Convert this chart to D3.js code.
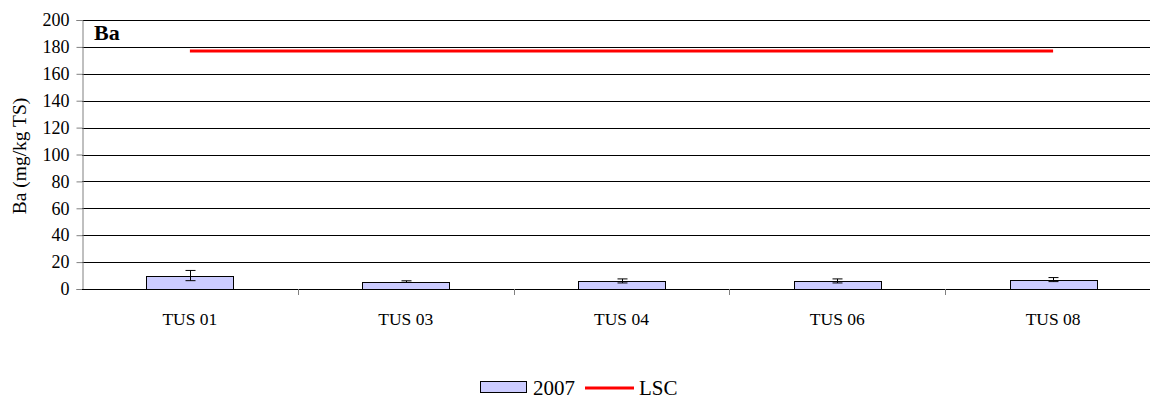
<!DOCTYPE html>
<html>
<head>
<meta charset="utf-8">
<script src="https://cdn.jsdelivr.net/npm/d3@7"></script>
<style>
body { margin: 0; background: #fff; }
svg text { font-family: "Liberation Serif", "Times New Roman", serif !important; }
</style>
</head>
<body>
<svg width="1150" height="399"></svg>
<script>
// data
var categories = ['TUS 01', 'TUS 03', 'TUS 04', 'TUS 06', 'TUS 08'];
var values2007 = [10, 5.5, 6, 6, 7];
var errors2007 = [3.8, 0.6, 1.5, 1.5, 1.5];
var lscValue = 177;
var yTicks = [0, 20, 40, 60, 80, 100, 120, 140, 160, 180, 200];

var svg = d3.select('svg');

// plot box (runs past the picture's right edge)
var plotLeft = 82, plotTop = 20, plotBottom = 289, plotRight = 1161;

var x = d3.scaleBand()
	.domain(categories)
	.range([plotLeft, plotRight]);

var y = d3.scaleLinear()
	.domain([0, 200])
	.range([plotBottom, plotTop]);

// gridlines
svg.append('g')
	.selectAll('line')
	.data(yTicks.filter(function(d) { return d > 0; }))
	.enter().append('line')
	.attr('x1', plotLeft).attr('x2', plotRight)
	.attr('y1', function(d) { return Math.round(y(d)) + 0.5; })
	.attr('y2', function(d) { return Math.round(y(d)) + 0.5; })
	.attr('stroke', '#000')
	.attr('stroke-width', 1);

// y axis
var yAxis = svg.append('g')
	.attr('transform', 'translate(' + (plotLeft + 0.5) + ',0)')
	.call(d3.axisLeft(y).tickValues(yTicks).tickSize(6).tickPadding(7));
yAxis.select('.domain').attr('stroke', '#808080');
yAxis.selectAll('.tick line').attr('stroke', '#808080');
yAxis.selectAll('.tick text')
	.attr('font-size', 18)
	.attr('fill', '#000');

// bars
var bw = 87;
svg.append('g')
	.selectAll('rect')
	.data(categories)
	.enter().append('rect')
	.attr('x', function(d) { return Math.round(x(d) + x.bandwidth() / 2 - bw / 2) + 0.5; })
	.attr('y', function(d, i) { return Math.round(y(values2007[i])) + 0.5; })
	.attr('width', bw)
	.attr('height', function(d, i) { return Math.round(plotBottom - y(values2007[i])); })
	.attr('fill', '#ccccff')
	.attr('stroke', '#000')
	.attr('stroke-width', 1);

// error bars
var eb = svg.append('g').attr('stroke', '#000').attr('stroke-width', 1);
categories.forEach(function(c, i) {
	var cx = Math.round(x(c) + x.bandwidth() / 2) + 0.5;
	var y1 = y(values2007[i] + errors2007[i]), y2 = y(values2007[i] - errors2007[i]);
	eb.append('line').attr('x1', cx).attr('x2', cx).attr('y1', y1).attr('y2', y2);
	eb.append('line').attr('x1', cx - 5).attr('x2', cx + 5).attr('y1', y1).attr('y2', y1);
	eb.append('line').attr('x1', cx - 5).attr('x2', cx + 5).attr('y1', y2).attr('y2', y2);
});

// x axis line
svg.append('line')
	.attr('x1', plotLeft).attr('x2', plotRight)
	.attr('y1', plotBottom + 0.5).attr('y2', plotBottom + 0.5)
	.attr('stroke', '#000');

// x ticks between categories
svg.append('g')
	.selectAll('line')
	.data(categories.slice(1))
	.enter().append('line')
	.attr('x1', function(d) { return Math.round(x(d)) + 0.5; })
	.attr('x2', function(d) { return Math.round(x(d)) + 0.5; })
	.attr('y1', plotBottom).attr('y2', plotBottom + 6)
	.attr('stroke', '#808080');

svg.append('g')
	.selectAll('text')
	.data(categories)
	.enter().append('text')
	.attr('x', function(d) { return x(d) + x.bandwidth() / 2; })
	.attr('y', 325)
	.attr('text-anchor', 'middle')
	.attr('font-size', 17.5)
	.text(function(d) { return d; });

// LSC line, from first to last category centre
var lsc = d3.line()
	.x(function(d) { return x(d) + x.bandwidth() / 2; })
	.y(function() { return y(lscValue); });
svg.append('path')
	.datum([categories[0], categories[categories.length - 1]])
	.attr('d', lsc)
	.attr('stroke', '#ff0000')
	.attr('stroke-width', 3)
	.attr('fill', 'none');

// title
svg.append('text')
	.attr('x', 94).attr('y', 40)
	.attr('font-size', 22)
	.attr('font-weight', 'bold')
	.text('Ba');

// y axis label
svg.append('text')
	.attr('transform', 'translate(26,156) rotate(-90)')
	.attr('text-anchor', 'middle')
	.attr('font-size', 19.5)
	.text('Ba (mg/kg TS)');

// legend
var lg = svg.append('g');
lg.append('rect')
	.attr('x', 480.5).attr('y', 381.5)
	.attr('width', 46).attr('height', 11)
	.attr('fill', '#ccccff').attr('stroke', '#000');
lg.append('text')
	.attr('x', 533).attr('y', 395)
	.attr('font-size', 21)
	.text('2007');
lg.append('line')
	.attr('x1', 585).attr('x2', 634)
	.attr('y1', 388).attr('y2', 388)
	.attr('stroke', '#ff0000').attr('stroke-width', 3);
lg.append('text')
	.attr('x', 639).attr('y', 395)
	.attr('font-size', 21)
	.text('LSC');
</script>
</body>
</html>
